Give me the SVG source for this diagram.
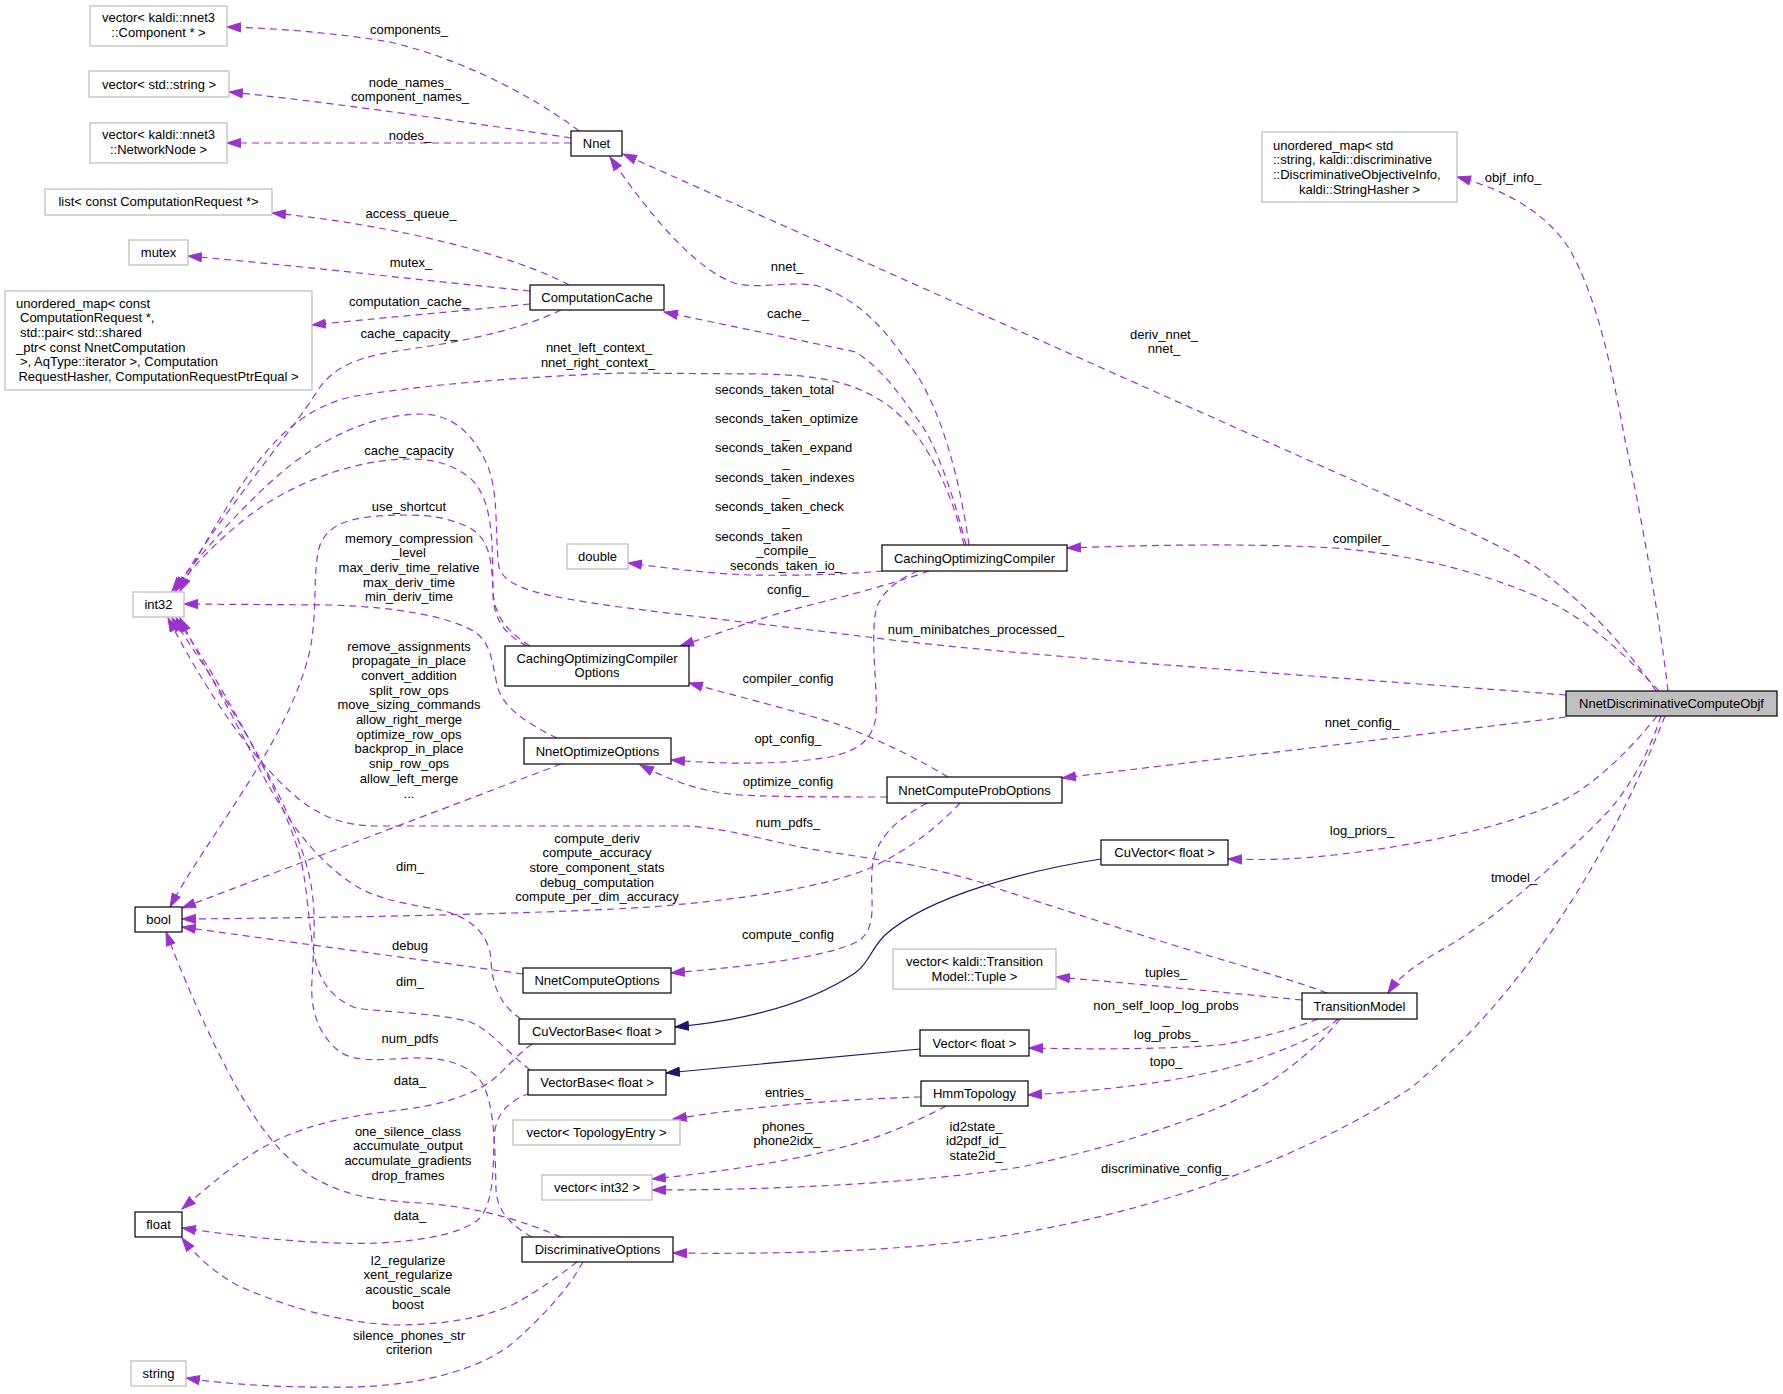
<svg xmlns="http://www.w3.org/2000/svg" width="1783" height="1394" viewBox="0 0 1783 1394">
<style>
text{font-family:"Liberation Sans",Arial,Helvetica,sans-serif;font-size:13px;fill:#000}
.c{text-anchor:middle}
.nb{fill:#fff;stroke:#000;stroke-width:1.2}
.ng{fill:#fff;stroke:#bfbfbf;stroke-width:1.3}
.nr{fill:#bfbfbf;stroke:#000;stroke-width:1.2}
.e{fill:none;stroke:#9a32cd;stroke-width:1.2;stroke-dasharray:7,5;marker-end:url(#ap)}
.i{fill:none;stroke:#191970;stroke-width:1.2;marker-end:url(#ab)}
</style>
<defs>
<marker id="ap" markerUnits="userSpaceOnUse" markerWidth="15" markerHeight="11" viewBox="0 0 15 11" refX="14" refY="5.5" orient="auto"><path d="M0.5,1 L14,5.5 L0.5,10 Z" fill="#9a32cd" stroke="#9a32cd" stroke-width="1"/></marker>
<marker id="ab" markerUnits="userSpaceOnUse" markerWidth="15" markerHeight="11" viewBox="0 0 15 11" refX="14" refY="5.5" orient="auto"><path d="M0.5,1 L14,5.5 L0.5,10 Z" fill="#191970" stroke="#191970" stroke-width="1"/></marker>
</defs>
<rect width="1783" height="1394" fill="#fff"/>
<g id="connectors">
<path class="e" d="M 579,131 C 550,108 475,62 390,42 C 330,32 270,28 227,27"/>
<path class="e" d="M 571,138 C 480,124 330,102 229,92"/>
<path class="e" d="M 571,143 L 227,143"/>
<path class="e" d="M 569,285 C 520,258 400,225 272,213"/>
<path class="e" d="M 530,291 C 420,280 300,266 188,256"/>
<path class="e" d="M 530,304 C 460,311 380,318 312,325"/>
<path class="e" d="M 561,310 C 520,330 460,342 410,349 C 360,356 335,365 318,390 C 290,435 215,520 176,591"/>
<path class="e" d="M 964,545 C 950,480 915,420 880,400 C 850,382 820,375 760,374 L 620,373 C 520,377 420,385 350,397 C 305,408 275,438 252,470 C 220,515 195,560 180,591"/>
<path class="e" d="M 1566,695 C 1400,682 1000,655 868,637 C 780,626 680,615 620,607 C 550,597 505,590 499,567 C 494,530 500,490 485,460 C 470,430 450,415 423,414 C 370,414 320,440 282,472 C 240,508 200,555 172,591"/>
<path class="e" d="M 530,646 C 505,630 494,615 493,590 C 492,550 495,500 470,478 C 450,462 430,459 407,459 C 350,460 290,485 250,515 C 215,542 190,570 175,591"/>
<path class="e" d="M 527,646 C 505,635 494,620 493,595 C 492,560 490,540 470,528 C 450,518 430,515 407,515 C 360,515 330,520 320,545 C 312,570 318,610 310,650 C 290,740 205,840 170,907"/>
<path class="e" d="M 557,738 C 530,725 502,708 497,685 C 492,660 490,642 475,632 C 450,617 400,607 330,605 L 184,604"/>
<path class="e" d="M 561,764 L 182,908"/>
<path class="e" d="M 960,803 C 935,830 905,852 870,868 C 830,885 760,898 650,907 C 520,915 300,918 182,919"/>
<path class="e" d="M 927,803 C 895,820 874,840 872,870 C 870,900 878,925 860,940 C 830,958 740,967 671,973"/>
<path class="e" d="M 523,974 L 182,927"/>
<path class="e" d="M 521,1019 C 500,1005 492,985 491,960 C 490,935 470,915 435,909 C 400,903 370,897 350,882 C 310,855 280,810 255,760 C 225,700 195,650 180,618"/>
<path class="e" d="M 530,1070 C 505,1050 490,1030 470,1022 C 440,1013 380,1012 356,1008 C 335,1000 322,985 316,963 C 308,930 308,880 298,850 C 280,790 220,680 176,618"/>
<path class="e" d="M 532,1237 C 510,1225 497,1210 496,1190 C 495,1150 495,1100 480,1080 C 465,1062 440,1057 410,1058 C 380,1060 355,1062 340,1052 C 318,1035 310,1010 312,980 C 314,940 318,900 305,860 C 285,790 215,680 172,618"/>
<path class="e" d="M 1327,993 C 1280,975 1200,955 1098,921 C 1040,902 1000,890 983,883 C 940,870 900,862 887,861 C 850,855 800,848 791,845 C 750,836 720,828 688,826 L 380,826 C 340,826 320,815 300,800 C 250,760 200,680 168,618"/>
<path class="e" d="M 532,1044 C 510,1060 500,1078 480,1088 C 460,1098 440,1105 400,1110 C 360,1115 320,1120 277,1140 C 240,1158 210,1185 182,1209"/>
<path class="e" d="M 530,1093 C 505,1103 495,1115 494,1140 C 493,1170 494,1200 480,1218 C 465,1232 430,1240 380,1243 C 320,1245 250,1238 182,1228"/>
<path class="e" d="M 561,1237 C 520,1220 480,1207 420,1203 C 370,1200 345,1195 316,1179 C 280,1158 255,1120 237,1088 C 210,1040 180,970 166,932"/>
<path class="e" d="M 577,1262 C 560,1275 540,1290 514,1304 C 480,1320 435,1325 395,1325 C 340,1323 280,1305 237,1285 C 215,1273 195,1255 182,1238"/>
<path class="e" d="M 583,1262 C 570,1285 550,1310 514,1342 C 480,1370 420,1385 356,1387 C 290,1388 230,1385 186,1378"/>
<path class="e" d="M 929,571 C 890,585 830,600 791,610 C 760,618 720,633 680,646"/>
<path class="e" d="M 918,571 C 895,580 880,595 876,610 C 870,640 878,690 876,717 C 872,740 860,750 830,757 C 790,764 730,765 671,760"/>
<path class="e" d="M 883,571 C 850,574 800,576 750,575 C 700,573 660,567 628,563"/>
<path class="e" d="M 948,777 C 920,760 880,740 840,725 C 800,712 740,697 689,683"/>
<path class="e" d="M 887,797 C 840,797 780,797 740,795 C 700,792 670,780 640,765"/>
<path class="e" d="M 1566,717 L 1062,778"/>
<path class="e" d="M 1659,691 C 1630,660 1590,620 1545,600 C 1490,575 1420,555 1334,548 C 1250,543 1150,545 1067,548"/>
<path class="e" d="M 1656,691 C 1635,660 1600,615 1540,570 C 1510,550 1480,537 1449,523 L 623,154"/>
<path class="e" d="M 1668,691 C 1660,620 1640,510 1625,440 C 1612,370 1598,300 1570,250 C 1545,210 1500,188 1457,177"/>
<path class="e" d="M 1657,716 C 1630,750 1590,790 1553,805 C 1500,828 1420,845 1334,855 C 1290,860 1260,860 1228,859"/>
<path class="e" d="M 1661,716 C 1650,750 1630,790 1600,820 C 1560,860 1500,915 1450,945 C 1420,962 1400,975 1388,993"/>
<path class="e" d="M 1665,716 C 1620,830 1540,980 1411,1088 C 1300,1160 1150,1215 983,1239 C 880,1253 760,1254 673,1253"/>
<path class="e" d="M 1302,1000 C 1250,995 1150,985 1056,977"/>
<path class="e" d="M 1318,1019 C 1290,1030 1257,1039 1220,1045 C 1150,1050 1080,1049 1029,1048"/>
<path class="e" d="M 1338,1019 C 1320,1035 1295,1046 1260,1058 C 1218,1073 1150,1088 1028,1095"/>
<path class="e" d="M 1340,1019 C 1320,1045 1280,1080 1238,1099 C 1180,1126 1100,1150 1021,1167 C 920,1183 780,1190 652,1190"/>
<path class="e" d="M 946,1106 C 920,1120 880,1138 850,1145 C 800,1160 720,1172 652,1179"/>
<path class="e" d="M 921,1097 C 850,1099 760,1105 673,1119"/>
<path class="e" d="M 969,545 C 960,480 940,400 906,360 C 885,330 860,300 818,286 C 790,280 760,290 734,283 C 700,270 660,230 610,157"/>
<path class="e" d="M 966,545 C 955,500 935,440 918,420 C 900,395 885,372 856,352 L 664,312"/>
<path class="i" d="M 1101,859 C 1030,870 930,895 885,935 C 870,950 870,962 855,973 C 810,1003 750,1020 675,1027"/>
<path class="i" d="M 920,1049 L 666,1073"/>
<g class="c">
<text x="409" y="33.5">components_</text>
<text x="410" y="86.5">node_names_</text>
<text x="410" y="101.2">component_names_</text>
<text x="410" y="139.5">nodes_</text>
<text x="411" y="217.5">access_queue_</text>
<text x="411" y="266.5">mutex_</text>
<text x="409" y="305.5">computation_cache_</text>
<text x="409" y="337.5">cache_capacity_</text>
<text x="599" y="352">nnet_left_context_</text>
<text x="598" y="366.7">nnet_right_context_</text>
<text x="787" y="270.5">nnet_</text>
<text x="788" y="317.5">cache_</text>
<text x="1164" y="338.5">deriv_nnet_</text>
<text x="1164" y="353.2">nnet_</text>
<text x="1513" y="181.5">objf_info_</text>
<text x="1361" y="542.5">compiler_</text>
<text x="788" y="593.5">config_</text>
<text x="976" y="633.5">num_minibatches_processed_</text>
<text x="788" y="682.5">compiler_config</text>
<text x="788" y="742.5">opt_config_</text>
<text x="1362" y="726.5">nnet_config_</text>
<text x="788" y="785.5">optimize_config</text>
<text x="409" y="454.5">cache_capacity</text>
<text x="409" y="510.5">use_shortcut</text>
<text x="409" y="542.5">memory_compression</text>
<text x="409" y="557.2">_level</text>
<text x="409" y="571.9">max_deriv_time_relative</text>
<text x="409" y="586.6">max_deriv_time</text>
<text x="409" y="601.3">min_deriv_time</text>
<text x="409" y="650.5">remove_assignments</text>
<text x="409" y="665.2">propagate_in_place</text>
<text x="409" y="679.9">convert_addition</text>
<text x="409" y="694.6">split_row_ops</text>
<text x="409" y="709.3">move_sizing_commands</text>
<text x="409" y="724">allow_right_merge</text>
<text x="409" y="738.7">optimize_row_ops</text>
<text x="409" y="753.4">backprop_in_place</text>
<text x="409" y="768.1">snip_row_ops</text>
<text x="409" y="782.8">allow_left_merge</text>
<text x="409" y="797.5">...</text>
<text x="788" y="826.5">num_pdfs_</text>
<text x="597" y="842.5">compute_deriv</text>
<text x="597" y="857.2">compute_accuracy</text>
<text x="597" y="871.9">store_component_stats</text>
<text x="597" y="886.6">debug_computation</text>
<text x="597" y="901.3">compute_per_dim_accuracy</text>
<text x="1362" y="834.5">log_priors_</text>
<text x="1514" y="881.5">tmodel_</text>
<text x="410" y="870.5">dim_</text>
<text x="788" y="938.5">compute_config</text>
<text x="410" y="949.5">debug</text>
<text x="1166" y="976.5">tuples_</text>
<text x="410" y="985.5">dim_</text>
<text x="1166" y="1009.5">non_self_loop_log_probs</text>
<text x="1166" y="1024.2">_</text>
<text x="1166" y="1038.9">log_probs_</text>
<text x="410" y="1042.5">num_pdfs</text>
<text x="1166" y="1065.5">topo_</text>
<text x="410" y="1084.5">data_</text>
<text x="788" y="1096.5">entries_</text>
<text x="787" y="1130.5">phones_</text>
<text x="787" y="1145.2">phone2idx_</text>
<text x="976" y="1130.5">id2state_</text>
<text x="976" y="1145.2">id2pdf_id_</text>
<text x="976" y="1159.9">state2id_</text>
<text x="408" y="1135.5">one_silence_class</text>
<text x="408" y="1150.2">accumulate_output</text>
<text x="408" y="1164.9">accumulate_gradients</text>
<text x="408" y="1179.6">drop_frames</text>
<text x="1165" y="1172.5">discriminative_config_</text>
<text x="410" y="1219.5">data_</text>
<text x="408" y="1264.5">l2_regularize</text>
<text x="408" y="1279.2">xent_regularize</text>
<text x="408" y="1293.9">acoustic_scale</text>
<text x="408" y="1308.6">boost</text>
<text x="409" y="1339.5">silence_phones_str</text>
<text x="409" y="1354.2">criterion</text>
<text x="786" y="408.2">_</text>
<text x="786" y="437.6">_</text>
<text x="786" y="467">_</text>
<text x="786" y="496.4">_</text>
<text x="786" y="525.8">_</text>
<text x="786" y="555.2">_compile_</text>
<text x="786" y="569.9">seconds_taken_io_</text>
</g>
<text x="715" y="393.5">seconds_taken_total</text>
<text x="715" y="422.9">seconds_taken_optimize</text>
<text x="715" y="452.3">seconds_taken_expand</text>
<text x="715" y="481.7">seconds_taken_indexes</text>
<text x="715" y="511.1">seconds_taken_check</text>
<text x="715" y="540.5">seconds_taken</text>
</g>
<g id="n_vcomp"><rect class="ng" x="90" y="6" width="137" height="40"/><text class="c" x="158.5" y="22">vector&lt; kaldi::nnet3</text><text class="c" x="158.5" y="36.7">::Component * &gt;</text></g>
<g id="n_vstr"><rect class="ng" x="89" y="71" width="140" height="26"/><text class="c" x="159" y="88.5">vector&lt; std::string &gt;</text></g>
<g id="n_vnn"><rect class="ng" x="90" y="123" width="137" height="40"/><text class="c" x="158.5" y="139">vector&lt; kaldi::nnet3</text><text class="c" x="158.5" y="153.7">::NetworkNode &gt;</text></g>
<g id="n_list"><rect class="ng" x="45" y="189" width="227" height="26"/><text class="c" x="158.5" y="206">list&lt; const ComputationRequest *&gt;</text></g>
<g id="n_mutex"><rect class="ng" x="129" y="240" width="59" height="25"/><text class="c" x="158.5" y="257">mutex</text></g>
<g id="n_umapconst"><rect class="ng" x="5" y="291" width="307" height="99"/>
<text x="16" y="307.5">unordered_map&lt; const</text>
<text x="20" y="322.2">ComputationRequest *,</text>
<text x="20" y="336.9">std::pair&lt; std::shared</text>
<text x="16" y="351.6">_ptr&lt; const NnetComputation</text>
<text x="20" y="366.3">&gt;, AqType::iterator &gt;, Computation</text>
<text class="c" x="158.5" y="381">RequestHasher, ComputationRequestPtrEqual &gt;</text></g>
<g id="n_int32"><rect class="ng" x="133" y="592" width="51" height="25"/><text class="c" x="158.5" y="609">int32</text></g>
<g id="n_bool"><rect class="nb" x="135" y="907" width="47" height="25"/><text class="c" x="158.5" y="924">bool</text></g>
<g id="n_float"><rect class="nb" x="135" y="1212" width="47" height="25"/><text class="c" x="158.5" y="1229">float</text></g>
<g id="n_string"><rect class="ng" x="131" y="1361" width="55" height="25"/><text class="c" x="158.5" y="1378">string</text></g>
<g id="n_nnet"><rect class="nb" x="571" y="131" width="51" height="25"/><text class="c" x="596.5" y="148">Nnet</text></g>
<g id="n_ccache"><rect class="nb" x="530" y="285" width="134" height="25"/><text class="c" x="597" y="302">ComputationCache</text></g>
<g id="n_double"><rect class="ng" x="567" y="544" width="61" height="25"/><text class="c" x="597.5" y="561">double</text></g>
<g id="n_coc"><rect class="nb" x="882" y="545" width="185" height="26"/><text class="c" x="974.5" y="562.5">CachingOptimizingCompiler</text></g>
<g id="n_coco"><rect class="nb" x="505" y="646" width="184" height="40"/><text class="c" x="597" y="662.5">CachingOptimizingCompiler</text><text class="c" x="597" y="677.2">Options</text></g>
<g id="n_noo"><rect class="nb" x="524" y="738" width="147" height="26"/><text class="c" x="597.5" y="755.5">NnetOptimizeOptions</text></g>
<g id="n_ncpo"><rect class="nb" x="887" y="777" width="175" height="26"/><text class="c" x="974.5" y="794.5">NnetComputeProbOptions</text></g>
<g id="n_nco"><rect class="nb" x="523" y="968" width="148" height="25"/><text class="c" x="597" y="985">NnetComputeOptions</text></g>
<g id="n_cuvb"><rect class="nb" x="519" y="1019" width="156" height="25"/><text class="c" x="597" y="1036">CuVectorBase&lt; float &gt;</text></g>
<g id="n_vb"><rect class="nb" x="528" y="1070" width="138" height="25"/><text class="c" x="597" y="1087">VectorBase&lt; float &gt;</text></g>
<g id="n_vte"><rect class="ng" x="513" y="1120" width="167" height="25"/><text class="c" x="596.5" y="1137">vector&lt; TopologyEntry &gt;</text></g>
<g id="n_vi32"><rect class="ng" x="542" y="1175" width="110" height="25"/><text class="c" x="597" y="1192">vector&lt; int32 &gt;</text></g>
<g id="n_do"><rect class="nb" x="522" y="1237" width="151" height="25"/><text class="c" x="597.5" y="1254">DiscriminativeOptions</text></g>
<g id="n_cuv"><rect class="nb" x="1101" y="840" width="127" height="25"/><text class="c" x="1164.5" y="857">CuVector&lt; float &gt;</text></g>
<g id="n_vtup"><rect class="ng" x="893" y="949" width="163" height="40"/><text class="c" x="974.5" y="966">vector&lt; kaldi::Transition</text><text class="c" x="974.5" y="980.7">Model::Tuple &gt;</text></g>
<g id="n_vf"><rect class="nb" x="920" y="1030" width="109" height="26"/><text class="c" x="974.5" y="1047.5">Vector&lt; float &gt;</text></g>
<g id="n_hmm"><rect class="nb" x="921" y="1081" width="107" height="25"/><text class="c" x="974.5" y="1098">HmmTopology</text></g>
<g id="n_tm"><rect class="nb" x="1302" y="993" width="115" height="26"/><text class="c" x="1359.5" y="1010.5">TransitionModel</text></g>
<g id="n_umapstd"><rect class="ng" x="1262" y="132" width="195" height="70"/>
<text x="1273" y="149.5">unordered_map&lt; std</text>
<text x="1273" y="164.2">::string, kaldi::discriminative</text>
<text x="1273" y="178.9">::DiscriminativeObjectiveInfo,</text>
<text class="c" x="1359.5" y="193.6">kaldi::StringHasher &gt;</text></g>
<g id="n_ndco"><rect class="nr" x="1566" y="691" width="211" height="25"/><text class="c" x="1671.5" y="708">NnetDiscriminativeComputeObjf</text></g>
</svg>
